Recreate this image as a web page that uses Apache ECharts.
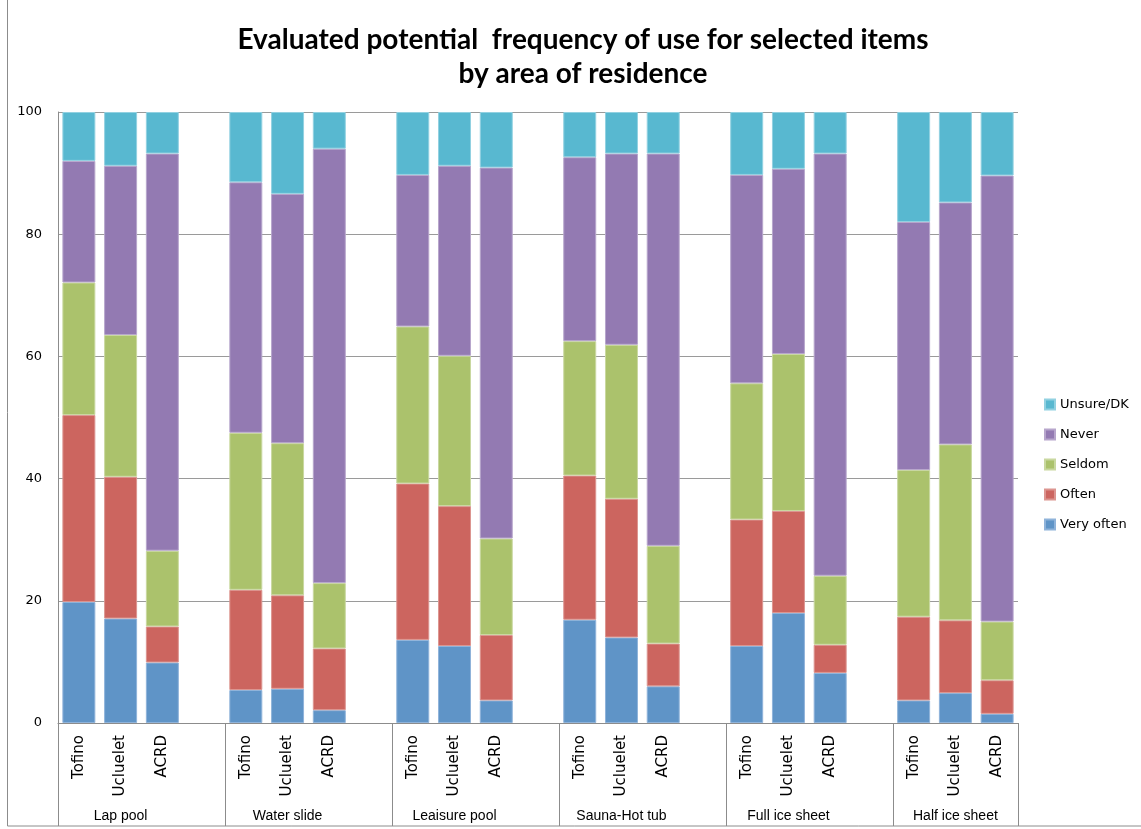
<!DOCTYPE html>
<html>
<head>
<meta charset="utf-8">
<script src="https://cdn.jsdelivr.net/npm/echarts@6/dist/echarts.min.js"></script>
<style>
  html, body { margin: 0; padding: 0; background: #fff; }
  #chart { width: 1141px; height: 829px; }
</style>
</head>
<body>
<div id="chart"></div>
<script>
// areas of residence (one bar each) and the facility groups
const areas = ['Tofino', 'Ucluelet', 'ACRD']
const groups = ['Lap pool', 'Water slide', 'Leaisure pool', 'Sauna-Hot tub', 'Full ice sheet', 'Half ice sheet']

// percent per bar, in order: group by group, Tofino / Ucluelet / ACRD
const veryOften = [19.8, 17.1, 9.9, 5.4, 5.6, 2.1, 13.6, 12.6, 3.7, 16.9, 14.0, 6.0, 12.6, 18.0, 8.2, 3.7, 4.9, 1.5]
const often = [30.6, 23.2, 5.9, 16.4, 15.3, 10.1, 25.6, 22.9, 10.7, 23.6, 22.7, 7.0, 20.7, 16.7, 4.6, 13.7, 11.9, 5.5]
const seldom = [21.7, 23.2, 12.4, 25.7, 24.9, 10.7, 25.7, 24.6, 15.8, 22.0, 25.2, 16.0, 22.3, 25.7, 11.3, 24.0, 28.8, 9.6]
const never = [19.9, 27.7, 65.0, 41.0, 40.8, 71.1, 24.8, 31.1, 60.7, 30.1, 31.3, 64.2, 34.1, 30.3, 69.1, 40.6, 39.6, 73.0]
const unsure = [8.0, 8.8, 6.8, 11.5, 13.4, 6.0, 10.3, 8.8, 9.1, 7.4, 6.8, 6.8, 10.3, 9.3, 6.8, 18.0, 14.8, 10.4]

const yTicks = [0, 20, 40, 60, 80, 100]

// one empty slot between groups, like the spacer rows in the sheet
const xCats = []
const groupBounds = [0]
const groupCenters = []
groups.forEach((g, gi) => {
  const start = xCats.length
  areas.forEach(a => xCats.push(a))
  groupCenters.push(start + areas.length / 2)
  if (gi < groups.length - 1) xCats.push('')
  groupBounds.push(xCats.length)
})

const spread = arr => {
  const out = []
  groups.forEach((g, gi) => {
    areas.forEach((a, ai) => out.push(arr[gi * areas.length + ai]))
    if (gi < groups.length - 1) out.push('-')
  })
  return out
}

const seriesDefs = [
  { name: 'Very often', data: veryOften, color: '#5f94c7', border: '#8fb3da' },
  { name: 'Often', data: often, color: '#cc655f', border: '#dc9590' },
  { name: 'Seldom', data: seldom, color: '#abc26c', border: '#c9d8a0' },
  { name: 'Never', data: never, color: '#937ab2', border: '#b7a6cc' },
  { name: 'Unsure/DK', data: unsure, color: '#58b8d0', border: '#92d1e1' }
]

const chart = echarts.init(document.getElementById('chart'))

const option = {
  backgroundColor: '#fff',
  animation: false,
  title: {
    text: 'Evaluated potential  frequency of use for selected items\nby area of residence',
    left: 578,
    top: 18,
    textAlign: 'center',
    textStyle: {
      fontFamily: 'Lato',
      fontWeight: 'bold',
      fontSize: 28,
      lineHeight: 34,
      color: '#000'
    }
  },
  legend: {
    orient: 'vertical',
    left: 1044,
    top: 398,
    padding: 0,
    itemWidth: 10,
    itemHeight: 10,
    itemGap: 17,
    icon: 'rect',
    data: ['Unsure/DK', 'Never', 'Seldom', 'Often', 'Very often'],
    textStyle: { fontFamily: 'DejaVu Sans', fontSize: 13, color: '#000' }
  },
  graphic: [{
    type: 'rect',
    shape: { x: 7.5, y: -2, width: 1140, height: 828 },
    style: { fill: 'none', stroke: '#8c8c8c', lineWidth: 1 },
    silent: true
  }],
  grid: { left: 58, right: 123, top: 112, bottom: 106 },
  xAxis: [
    {
      type: 'category',
      data: xCats,
      axisLine: { lineStyle: { color: '#8c8c8c' } },
      axisTick: { show: false },
      axisLabel: {
        interval: 0,
        rotate: 90,
        margin: 12,
        fontFamily: 'DejaVu Sans',
        fontSize: 15,
        color: '#000'
      }
    },
    {
      type: 'value',
      min: 0,
      max: xCats.length,
      position: 'bottom',
      axisLine: { show: false },
      splitLine: { show: false },
      axisTick: {
        show: true,
        customValues: groupBounds,
        length: 103,
        lineStyle: { color: '#8c8c8c' }
      },
      axisLabel: {
        customValues: groupCenters,
        margin: 86,
        fontFamily: 'Liberation Sans',
        fontSize: 14,
        color: '#000',
        formatter: v => {
          const i = groupCenters.findIndex(c => Math.abs(c - v) < 0.01)
          return i >= 0 ? groups[i] : ''
        }
      }
    }
  ],
  yAxis: {
    type: 'value',
    min: 0,
    max: 100,
    interval: 20,
    axisLine: { show: true, lineStyle: { color: '#8c8c8c' } },
    axisTick: { show: false },
    splitLine: { lineStyle: { color: '#9a9a9a' } },
    axisLabel: {
      margin: 16,
      fontFamily: 'DejaVu Sans',
      fontSize: 13,
      color: '#000',
      customValues: yTicks
    }
  },
  series: seriesDefs.map(s => ({
    name: s.name,
    type: 'bar',
    stack: 'total',
    barCategoryGap: '21%',
    data: spread(s.data),
    itemStyle: { color: s.color, borderColor: s.border, borderWidth: 1 }
  }))
}

chart.setOption(option)
</script>
</body>
</html>
